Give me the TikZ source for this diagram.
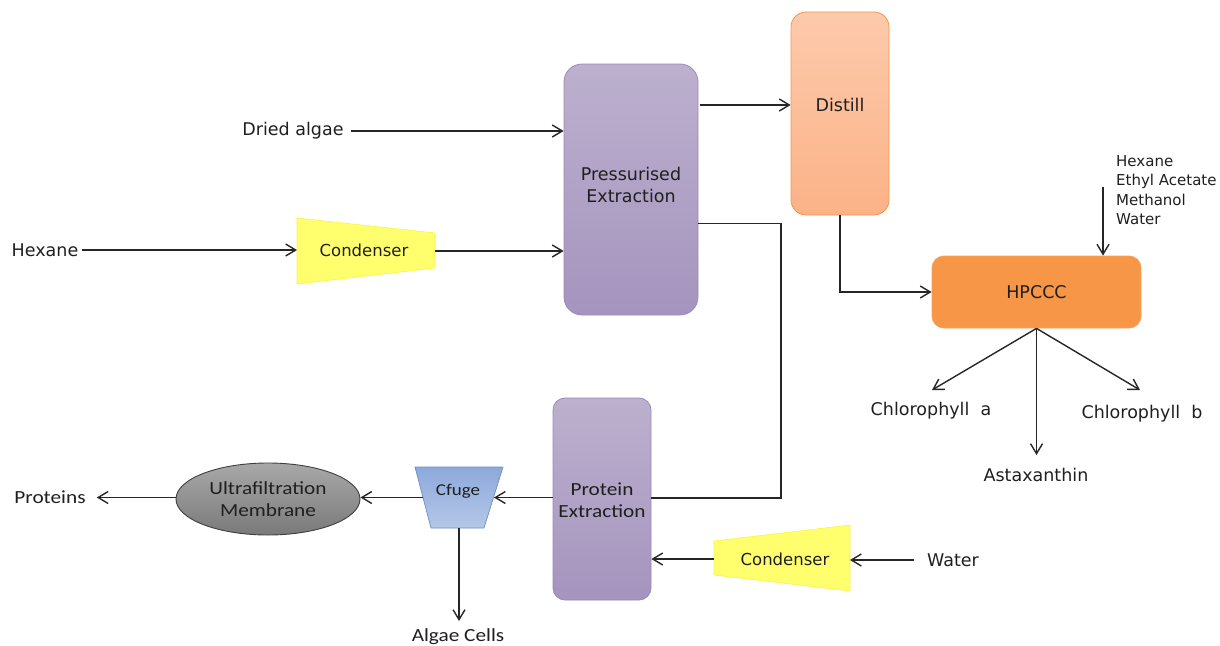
\documentclass[tikz,border=0pt]{standalone}
\usepackage{fontspec}
\setmainfont{DejaVu Sans}
\newfontfamily\calib[FakeStretch=1.15]{Carlito}
\usetikzlibrary{arrows.meta,shapes.geometric}

\definecolor{linec}{HTML}{262626}
\definecolor{purpletop}{HTML}{BCB0CE}
\definecolor{purplebot}{HTML}{A594BE}
\definecolor{purpleedge}{HTML}{9B89BC}
\definecolor{peachtop}{HTML}{FDCAAC}
\definecolor{peachbot}{HTML}{FBB287}
\definecolor{orangec}{HTML}{F79646}
\definecolor{condfill}{HTML}{FFFF6E}
\definecolor{condedge}{HTML}{F5F54A}
\definecolor{bluetop}{HTML}{8DA9DB}
\definecolor{bluebot}{HTML}{B4C7E7}
\definecolor{blueedge}{HTML}{6D8FC4}
\definecolor{greytop}{HTML}{A8A8A8}
\definecolor{greybot}{HTML}{7A7A7A}
\definecolor{greyedge}{HTML}{3F3F3F}

\begin{document}
\begin{tikzpicture}[x=1pt,y=-1pt,
  flow/.style={draw=linec, line width=1.4pt,
    -{Straight Barb[length=10pt,width=12pt,line width=1.4pt]}},
  plain/.style={draw=linec, line width=1.4pt},
  vtext/.style={font=\fontsize{17.5}{22}\selectfont, inner sep=4pt, align=center, text=black!88},
  ctext/.style={font=\calib\fontsize{18.5}{22.5}\selectfont, inner sep=4pt, align=center, text=black!88},
  purplebox/.style={draw=purpleedge, line width=0.8pt, rounded corners=18pt,
    top color=purpletop, bottom color=purplebot},
  peachbox/.style={draw=orangec, line width=0.8pt, rounded corners=15pt,
    top color=peachtop, bottom color=peachbot},
  hpbox/.style={draw=orangec!90!white, line width=0.8pt, rounded corners=12pt, fill=orangec},
  slot/.style={inner sep=0pt, outer sep=0pt, draw=none},
]
\useasboundingbox (0,0) rectangle (1220,645);

% ---- process units ----
\node[purplebox, minimum width=134pt, minimum height=251pt] (pe) at (631,189.5) {};
\node[vtext] at (631,185) {Pressurised\\Extraction};

\node[peachbox, minimum width=98pt, minimum height=203pt] (distill) at (840,113.5) {};
\node[vtext] (distlbl) at (840,105) {Distill};

\node[hpbox, minimum width=209pt, minimum height=72pt, font=\fontsize{17.5}{22}\selectfont,
  text=black!88] (hpccc) at (1036.5,292) {HPCCC};

\node[purplebox, rounded corners=12pt, minimum width=98pt, minimum height=202pt] (prot) at (602,499) {};
\node[ctext] at (602,500) {Protein\\Extraction};

\node[ellipse, draw=greyedge, line width=0.9pt, top color=greytop, bottom color=greybot,
  minimum width=184pt, minimum height=72pt, inner sep=0pt, align=center,
  font=\calib\fontsize{18.5}{22.5}\selectfont, text=black!88] (ell) at (268,499)
  {Ultrafiltration\\Membrane};

% ---- condensers and centrifuge (trapezoids) ----
\path[fill=condfill, draw=condedge, line width=0.6pt]
  (297,218) -- (435,233) -- (435,268) -- (297,284) -- cycle;
\node[slot, minimum width=138pt, minimum height=66pt] (cond1) at (366,251) {};
\node[font=\fontsize{16.5}{20}\selectfont, text=black!88] at (364,250) {Condenser};

\path[fill=condfill, draw=condedge, line width=0.6pt]
  (714,541) -- (850,525) -- (850,591) -- (714,575) -- cycle;
\node[slot, minimum width=136pt, minimum height=66pt] (cond2) at (782,559) {};
\node[font=\fontsize{16.5}{20}\selectfont, text=black!88] at (785,559) {Condenser};

\path[top color=bluetop, bottom color=bluebot, draw=blueedge, line width=0.7pt]
  (415,467) -- (503,467) -- (484,528) -- (431,528) -- cycle;
\node[slot, minimum width=88pt, minimum height=61pt] (cf) at (459,497.5) {};
\node[font=\calib\fontsize{16.5}{20}\selectfont, text=black!88] at (458,491) {Cfuge};

% ---- stream labels ----
\node[vtext] (dried) at (293,131) {Dried algae};
\node[vtext] (hex) at (45,250) {Hexane};
\node[font=\fontsize{15}{19.4}\selectfont, align=left, anchor=west, inner sep=0pt, text=black!88]
  (solv) at (1116,190) {Hexane\\Ethyl Acetate\\Methanol\\Water};
\node[vtext] (chla) at (931,411) {Chlorophyll\ \ a};
\node[vtext] (astax) at (1036,475) {Astaxanthin};
\node[vtext] (chlb) at (1142,414) {Chlorophyll\ \ b};
\node[vtext] (water) at (953,560) {Water};
\node[ctext] (proteins) at (50,497) {Proteins};
\node[ctext] (algae) at (458,637) {Algae Cells};

% ---- connector end points ----
\coordinate (sv) at (1103,187);
\coordinate (tipa) at (932,390);
\coordinate (tipx) at (1036.5,455);
\coordinate (tipb) at (1140,390);
\coordinate (tipc) at (459,621);
\coordinate (jn) at (781,498);
\coordinate (cfr) at ([xshift=-9pt]cf.east);
\coordinate (cfl) at ([xshift=8pt]cf.west);

% ---- connectors ----
\draw[flow, shorten <=3pt] (dried.east) -- (dried.east -| pe.west);
\draw[flow] (hex.east) -- (hex.east -| cond1.west);
\draw[flow] (cond1.east) -- (cond1.east -| pe.west);
\draw[flow, shorten <=2pt] (pe.east |- distlbl) -- (distill.west |- distlbl);
\draw[plain] ([yshift=-34pt]pe.east) -| (jn) -- (prot.east |- jn);
\draw[flow] (distill.south) |- (hpccc.west);
\draw[flow] (sv) -- (sv |- hpccc.north);
\draw[flow] (hpccc.south) -- (tipa);
\draw[flow] (hpccc.south) -- (tipx);
\draw[flow] (hpccc.south) -- (tipb);
\draw[flow] (prot.west |- cf) -- (cfr |- cf);
\draw[flow] (cfl |- cf) -- (ell.east |- cf);
\draw[flow, shorten >=7pt] (ell.west |- cf) -- (proteins.east |- cf);
\draw[flow] (cf.south) -- (tipc);
\draw[flow, shorten <=9pt] (water.west) -- (water.west -| cond2.east);
\draw[flow] (cond2.west) -- (cond2.west -| prot.east);
\end{tikzpicture}
\end{document}
